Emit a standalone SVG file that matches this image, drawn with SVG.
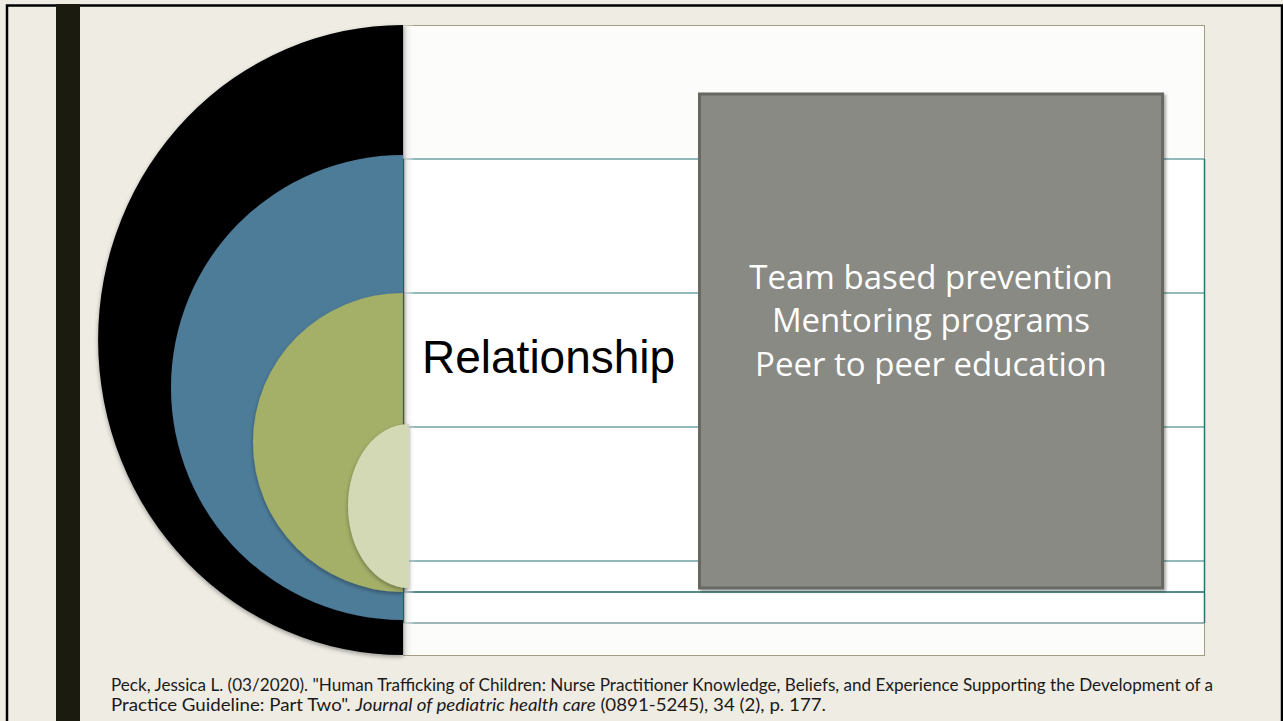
<svg xmlns="http://www.w3.org/2000/svg" width="1283" height="721" viewBox="0 0 1283 721">
<defs>
<style>
.band{stroke-width:1.5;fill:none}
.cite{font-family:Lato,"Open Sans","Liberation Sans",sans-serif;font-size:16.5px;fill:#1a1a1a}
.box-t{font-family:"Open Sans","Liberation Sans",sans-serif;font-size:33px;fill:#ffffff;text-anchor:middle}
</style>
<filter id="sh" x="-10%" y="-10%" width="120%" height="120%">
<feDropShadow dx="0" dy="2" stdDeviation="2" flood-color="#000" flood-opacity="0.35"/>
</filter>
<filter id="bsh" x="-5%" y="-5%" width="115%" height="115%">
<feDropShadow dx="2" dy="2" stdDeviation="1.5" flood-color="#000" flood-opacity="0.35"/>
</filter>
<linearGradient id="strip" x1="0" y1="0" x2="1" y2="0">
<stop offset="0" stop-color="#d6d6d4" stop-opacity="0.9"/>
<stop offset="1" stop-color="#ffffff" stop-opacity="0"/>
</linearGradient>
</defs>
<rect x="0" y="0" width="1283" height="721" fill="#efece4"/>
<rect x="7" y="5.5" width="1275" height="730" fill="none" stroke="#000" stroke-width="2.5"/>
<rect x="56" y="4" width="24" height="717" fill="#1b1b0f"/>

<g id="panel">
<rect x="403.5" y="25.5" width="801" height="630" fill="#fcfcfa" stroke="#a39c85" stroke-width="1"/>
<rect x="403.5" y="159" width="801" height="464" fill="#ffffff"/>
</g>

<g id="bands">
<line class="band" x1="403" y1="159" x2="1205" y2="159" stroke="#6fa3a5"/>
<line class="band" x1="403" y1="293" x2="1205" y2="293" stroke="#6fa3a5"/>
<line class="band" x1="403" y1="427" x2="1205" y2="427" stroke="#6fa3a5"/>
<line class="band" x1="403" y1="561" x2="1205" y2="561" stroke="#6fa3a5"/>
<line class="band" x1="403" y1="592" x2="1205" y2="592" stroke="#1f6464"/>
<line class="band" x1="403" y1="623" x2="1205" y2="623" stroke="#7d9fa0"/>
<line class="band" x1="1204.5" y1="159" x2="1204.5" y2="623" stroke="#2e7272" stroke-width="1.2"/>
</g>

<rect x="403" y="25" width="12" height="630" fill="url(#strip)"/>

<g id="circle-outer">
<path d="M403,25 A305,315 0 0 0 403,655 Z" fill="#000000" filter="url(#sh)"/>
</g>
<g id="circle-blue">
<path d="M403,155 A232,232.5 0 0 0 403,620 Z" fill="#4e7b99" filter="url(#sh)"/>
</g>
<g id="circle-green">
<path d="M403,293 A150,149.5 0 0 0 403,592 Z" fill="#a4af67" filter="url(#sh)"/>
</g>
<line x1="403.5" y1="159" x2="403.5" y2="623" stroke="#235f60" stroke-width="1.2"/>
<g id="circle-light">
<path d="M409,424 A61,82 0 0 0 409,588 Z" fill="#d3d9b5" filter="url(#sh)"/>
</g>

<g id="label-relationship">
<text x="422" y="373" font-family="'Liberation Sans',Arial,sans-serif" font-size="46" fill="#000">Relationship</text>
</g>

<g id="box">
<rect x="699.5" y="94" width="463" height="494" fill="#8a8a84" stroke="#676763" stroke-width="3" filter="url(#bsh)"/>
<text class="box-t" x="931" y="289">Team based prevention</text>
<text class="box-t" x="931" y="332">Mentoring programs</text>
<text class="box-t" x="931" y="376">Peer to peer education</text>
</g>

<g id="citation">
<text class="cite" x="111" y="691" textLength="1102" lengthAdjust="spacingAndGlyphs">Peck, Jessica L. (03/2020). "Human Trafficking of Children: Nurse Practitioner Knowledge, Beliefs, and Experience Supporting the Development of a</text>
<text class="cite" x="111" y="711" textLength="715" lengthAdjust="spacingAndGlyphs">Practice Guideline: Part Two". <tspan font-style="italic">Journal of pediatric health care</tspan> (0891-5245), 34 (2), p. 177.</text>
</g>
</svg>
